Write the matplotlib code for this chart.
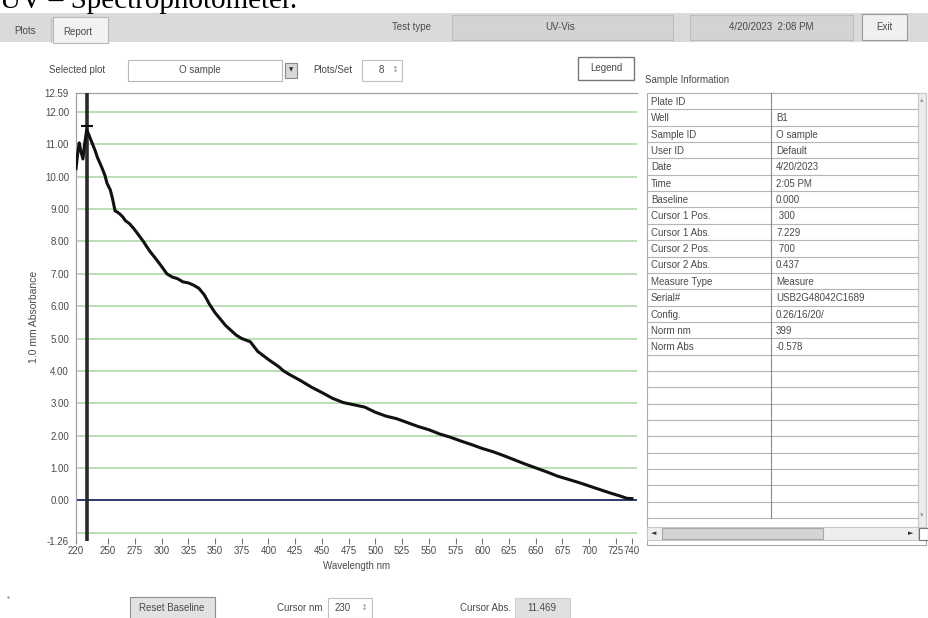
import numpy as np
import matplotlib.pyplot as plt
from matplotlib.patches import Rectangle

# spectrum
wavelength = [220, 221.5, 223, 224.5, 226.5, 228, 230, 232, 235, 238, 240, 244, 247, 249,
              252, 254, 256.5, 259, 261, 264, 266, 270, 274, 277, 283, 289, 295, 300,
              305, 310, 315, 320, 325, 330, 335, 340, 345, 350, 355, 360, 365, 370, 375,
              383, 390, 400, 410, 414, 420, 430, 440, 450, 460, 470, 480, 490, 500, 510,
              520, 530, 540, 550, 560, 570, 580, 590, 600, 610, 620, 630, 640, 650, 660,
              670, 680, 690, 700, 710, 720, 730, 735, 740]
absorbance = [10.25, 10.7, 11.05, 10.8, 10.55, 11.0, 11.45, 11.3, 11.05, 10.8, 10.6, 10.3,
              10.05, 9.8, 9.6, 9.35, 8.95, 8.9, 8.85, 8.75, 8.65, 8.55, 8.4, 8.27, 8.0, 7.7,
              7.45, 7.23, 7.0, 6.9, 6.85, 6.75, 6.72, 6.65, 6.55, 6.35, 6.05, 5.8, 5.6, 5.4,
              5.25, 5.1, 5.0, 4.9, 4.6, 4.35, 4.12, 4.0, 3.88, 3.7, 3.5, 3.33, 3.15, 3.02,
              2.95, 2.88, 2.72, 2.6, 2.52, 2.4, 2.28, 2.18, 2.05, 1.95, 1.83, 1.72, 1.6,
              1.5, 1.38, 1.25, 1.12, 1.0, 0.88, 0.75, 0.65, 0.55, 0.44, 0.33, 0.22, 0.12,
              0.06, 0.05]

x_ticks = [220, 250, 275, 300, 325, 350, 375, 400, 425, 450, 475, 500, 525, 550, 575,
           600, 625, 650, 675, 700, 725, 740]
y_min, y_max = -1.26, 12.59
y_grid = [-1, 0, 1, 2, 3, 4, 5, 6, 7, 8, 9, 10, 11, 12]
y_labels = [-1.26, 0, 1, 2, 3, 4, 5, 6, 7, 8, 9, 10, 11, 12, 12.59]

cursor_nm = 230
cursor_abs = 11.469

info_fields = ['Plate ID', 'Well', 'Sample ID', 'User ID', 'Date', 'Time', 'Baseline',
               'Cursor 1 Pos.', 'Cursor 1 Abs.', 'Cursor 2 Pos.', 'Cursor 2 Abs.',
               'Measure Type', 'Serial#', 'Config.', 'Norm nm', 'Norm Abs']
info_values = ['', 'B1', 'O sample', 'Default', '4/20/2023', '2:05 PM', '0.000', ' 300',
               '7.229', ' 700', '0.437', 'Measure', 'USB2G48042C1689', '0.26/16/20/',
               '399', '-0.578']

W, H = 929, 618
TXT = '#4a4a4a'
plt.rcParams['font.family'] = ['Liberation Sans', 'DejaVu Sans']

fig = plt.figure(figsize=(W / 100, H / 100), dpi=100)
fig.patch.set_facecolor('white')

ui = fig.add_axes([0, 0, 1, 1])
ui.set_xlim(0, W)
ui.set_ylim(H, 0)
ui.axis('off')


def box(l, t, r, b, fc='white', ec='#b0b0b0', lw=0.8, z=1):
    ui.add_patch(Rectangle((l, t), r - l, b - t, facecolor=fc, edgecolor=ec, lw=lw, zorder=z))


def label(x, y, s, ha='left', size=7, color=TXT, **kw):
    ui.text(x, y, s, ha=ha, va='center', fontsize=size, color=color, **kw)


# title, cut off at the top edge like the screenshot
ui.text(0, 8, 'UV \u2013 Spectrophotometer.', family='Liberation Serif', fontsize=21,
        va='baseline', ha='left', color='black')

# top bar
box(0, 13, W, 42, fc='#dadada', ec='none')
ui.plot([51, 51], [18, 42], color='#c4c4c4', lw=0.8)
box(53, 17, 108, 43, fc='#f2f2f2', ec='#b8b8b8')
label(14, 31, 'Plots')
label(63, 32, 'Report')
label(392, 27, 'Test type')
box(452, 15, 673, 40, fc='#d3d3d3', ec='#bdbdbd')
label(560, 27, 'UV-Vis', ha='center')
box(690, 15, 853, 40, fc='#d3d3d3', ec='#bdbdbd')
label(771, 27, '4/20/2023  2:08 PM', ha='center')
box(862, 14, 907, 40, fc='#f0f0f0', ec='#9a9a9a')
label(884, 27, 'Exit', ha='center')

# plot selection row
label(49, 70, 'Selected plot')
box(128, 60, 282, 81, fc='white', ec='#b8b8b8')
label(200, 70, 'O sample', ha='center')
box(285, 63, 297, 78, fc='#d8d8d8', ec='#888888')
ui.text(291, 70, '\u25BC', ha='center', va='center', fontsize=4, color='#333333',
        family='DejaVu Sans')
label(313, 70, 'Plots/Set')
box(362, 60, 402, 81, fc='white', ec='#c0c0c0')
label(381, 70, '8', ha='center')
label(395, 70, '\u2195', ha='center', size=6, color='#999999', family='DejaVu Sans')
box(578, 57, 634, 80, fc='white', ec='#777777', lw=1.0)
label(606, 68, 'Legend', ha='center')

# spectrum axes
x0, x1 = 76, 637
ax = fig.add_axes([x0 / W, 1 - 541 / H, (x1 - x0) / W, (541 - 93) / H])
ax.set_xlim(220, 744.7)
ax.set_ylim(y_min, y_max)
for g in y_grid:
    if g != 0:
        ax.axhline(g, color='#b3dcae', lw=1.3, zorder=1)
ax.axhline(0, color='#1d2b66', lw=1.3, zorder=2)
ax.axvline(cursor_nm, color='#2a2a2a', lw=2.6, zorder=3)
ax.plot(wavelength, absorbance, color='#111111', lw=2.2, zorder=4)
ax.plot([cursor_nm], [cursor_abs + 0.1], marker='_', ms=8, mew=1.5, color='#111111', zorder=5)

ax.set_yticks(y_labels)
ax.set_yticklabels(['%.2f' % v for v in y_labels], fontsize=7, color=TXT)
ax.set_xticks(x_ticks)
ax.set_xticklabels([str(v) for v in x_ticks], fontsize=7, color=TXT)
ax.tick_params(axis='y', length=0, pad=5)
ax.tick_params(axis='x', length=5, direction='inout', color='#777777', pad=1)
for side in ['right', 'bottom']:
    ax.spines[side].set_visible(False)
for side in ['left', 'top']:
    ax.spines[side].set_color('#a0a0a0')
    ax.spines[side].set_linewidth(0.9)
ax.set_xlabel('Wavelength nm', fontsize=7, color=TXT, labelpad=4)
ax.set_ylabel('1.0 mm Absorbance', fontsize=7.5, color=TXT, labelpad=4)

# sample information table
label(645, 80, 'Sample Information')
t_top, t_left, t_mid, t_right = 93, 647, 771, 918
row_h = 16.35
n_rows = 26
t_bot = t_top + n_rows * row_h
box(t_left, t_top, 926, 545, fc='white', ec='#a8a8a8')
box(t_right, t_top, 926, 527, fc='#ececec', ec='#c8c8c8')
for k in range(n_rows + 1):
    y = t_top + k * row_h
    ui.plot([t_left, t_right], [y, y], color='#b5b5b5', lw=0.8)
ui.plot([t_mid, t_mid], [t_top, t_bot], color='#8a8a8a', lw=0.8)
for k, (f, v) in enumerate(zip(info_fields, info_values)):
    yc = t_top + (k + 0.55) * row_h
    label(t_left + 4, yc, f)
    label(t_mid + 5, yc, v)
label(922, 100, '\u25B4', ha='center', size=5, color='#999999', family='DejaVu Sans')
label(922, 515, '\u25BE', ha='center', size=5, color='#999999', family='DejaVu Sans')

# horizontal scrollbar
box(t_left, 527, 918, 540, fc='#eeeeee', ec='#c8c8c8')
box(662, 528, 823, 539, fc='#d4d4d4', ec='#a8a8a8')
label(654, 533, '\u25C4', ha='center', size=5, color='#333333', family='DejaVu Sans')
label(911, 533, '\u25BA', ha='center', size=5, color='#333333', family='DejaVu Sans')
box(919, 528, 928, 540, fc='white', ec='#777777')

# bottom controls
box(130, 597, 215, 619, fc='#e2e2e2', ec='#8c8c8c')
label(172, 608, 'Reset Baseline', ha='center')
label(323, 608, 'Cursor nm', ha='right')
box(328, 598, 372, 618, fc='white', ec='#c0c0c0')
label(343, 608, str(cursor_nm), ha='center')
label(364, 608, '\u2195', ha='center', size=6, color='#999999', family='DejaVu Sans')
label(511, 608, 'Cursor Abs.', ha='right')
box(515, 598, 570, 618, fc='#e0e0e0', ec='#d0d0d0')
label(542, 608, '%.3f' % cursor_abs, ha='center')
ui.plot([8], [597], marker='.', ms=1.5, color='#999999')

fig.savefig('out.png', dpi=100)
